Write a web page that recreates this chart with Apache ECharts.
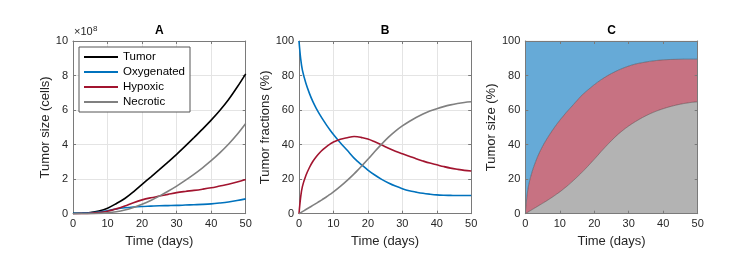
<!DOCTYPE html>
<html><head><meta charset="utf-8">
<script src="https://cdn.jsdelivr.net/npm/echarts@6/dist/echarts.min.js"></script>
<style>html,body{margin:0;padding:0;background:#fff}#c{width:740px;height:272px}</style>
</head><body><div id="c"></div>
<script>
// ---- data ----
const panelTitles = ['A', 'B', 'C'];
const seriesNames = ['Tumor', 'Oxygenated', 'Hypoxic', 'Necrotic'];
const xLabel = 'Time (days)';
const yLabelA = 'Tumor size (cells)';
const yLabelB = 'Tumor fractions (%)';
const yLabelC = 'Tumor size (%)';
const scaleLabel = '\u00d710';
const scaleExp = '8';

// Panel A: absolute sizes, in units of 1e8 cells
const timeA  = [0, 2.5, 5, 7.5, 10, 12.5, 15, 17.5, 20, 22.5, 25, 27.5, 30, 32.5, 35, 37.5, 40, 42.5, 45, 47.5, 50];
const tumorA = [0.02, 0.03, 0.07, 0.16, 0.32, 0.58, 0.88, 1.27, 1.7, 2.12, 2.55, 2.99, 3.44, 3.91, 4.4, 4.9, 5.42, 5.98, 6.6, 7.32, 8.1];
const oxyA   = [0.02, 0.03, 0.05, 0.1, 0.17, 0.27, 0.34, 0.39, 0.42, 0.44, 0.46, 0.47, 0.48, 0.5, 0.52, 0.54, 0.57, 0.62, 0.68, 0.76, 0.86];
const hypA   = [0, 0.005, 0.02, 0.06, 0.14, 0.28, 0.45, 0.64, 0.8, 0.92, 1.02, 1.12, 1.22, 1.29, 1.35, 1.42, 1.5, 1.6, 1.7, 1.83, 1.98];
const necA   = [0, 0, 0.005, 0.02, 0.05, 0.11, 0.21, 0.36, 0.55, 0.77, 1.02, 1.3, 1.6, 1.93, 2.28, 2.66, 3.07, 3.52, 4.02, 4.58, 5.22];

// Panels B and C: fractions in %
const timeF = [0, 0.5, 1, 2, 3, 4, 5, 6, 7, 8, 9, 10, 12, 14, 16, 17, 18, 20, 22, 24, 26, 28, 30, 32, 34, 36, 38, 40, 42, 44, 46, 48, 50];
const oxyF  = [100, 89.5, 83, 75.5, 69.8, 65, 61, 57.5, 54.3, 51.3, 48.5, 45.9, 41.1, 36.7, 32.2, 30.3, 28.6, 25.3, 22.4, 19.9, 17.8, 16, 14.5, 13.3, 12.5, 11.8, 11.3, 10.9, 10.7, 10.6, 10.5, 10.5, 10.5];
const hypF  = [0, 9.9, 15.8, 22.1, 26.6, 30.2, 33, 35.3, 37.2, 38.9, 40.3, 41.5, 43.1, 44, 44.7, 44.6, 44.2, 43.2, 41.6, 39.8, 37.9, 36.2, 34.7, 33.3, 31.8, 30.5, 29.3, 28.3, 27.3, 26.4, 25.7, 25.1, 24.7];
const necF  = [0, 0.6, 1.2, 2.4, 3.6, 4.8, 6, 7.2, 8.5, 9.8, 11.2, 12.6, 15.8, 19.3, 23.1, 25.1, 27.2, 31.5, 36, 40.3, 44.3, 47.8, 50.8, 53.4, 55.7, 57.7, 59.4, 60.8, 62, 63, 63.8, 64.4, 64.8];

// ---- styling ----
const FONT = 'Liberation Sans, Arial, Helvetica, sans-serif';
const TXT = '#262626';
const BOX = '#7a7a7a';
const GRIDC = '#e4e4e4';
const colors = { Tumor: '#000000', Oxygenated: '#0072BD', Hypoxic: '#A2142F', Necrotic: '#808080' };

const grids = [
  { left: 73, top: 41, width: 172.7, height: 172.7 },
  { left: 299, top: 41, width: 172.2, height: 172.7 },
  { left: 525.3, top: 41, width: 172.4, height: 172.7 }
];

const xAxes = [], yAxes = [];
function addAxes(gi, ymax, yint, showGrid, yName, yGap, z) {
  const line = { show: true, onZero: false, lineStyle: { color: BOX, width: 1 } };
  const tick = { show: true, inside: true, length: 3, lineStyle: { color: BOX, width: 1 } };
  const lab = { color: TXT, fontSize: 11, fontFamily: FONT, margin: 5 };
  const split = { show: showGrid, lineStyle: { color: GRIDC, width: 1 } };
  xAxes.push({ type: 'value', gridIndex: gi, position: 'bottom', min: 0, max: 50, interval: 10, z: z,
    axisLine: line, axisTick: tick, axisLabel: lab, splitLine: split,
    name: xLabel, nameLocation: 'middle', nameGap: 21,
    nameTextStyle: { color: TXT, fontSize: 13, fontFamily: FONT } });
  xAxes.push({ type: 'value', gridIndex: gi, position: 'top', min: 0, max: 50, interval: 10, z: z,
    axisLine: line, axisTick: tick, axisLabel: { show: false }, splitLine: { show: false } });
  yAxes.push({ type: 'value', gridIndex: gi, position: 'left', min: 0, max: ymax, interval: yint, z: z,
    axisLine: line, axisTick: tick, axisLabel: lab, splitLine: split,
    name: yName, nameLocation: 'middle', nameGap: yGap,
    nameTextStyle: { color: TXT, fontSize: 13, fontFamily: FONT } });
  yAxes.push({ type: 'value', gridIndex: gi, position: 'right', min: 0, max: ymax, interval: yint, z: z,
    axisLine: line, axisTick: tick, axisLabel: { show: false }, splitLine: { show: false } });
}
addAxes(0, 10, 2, true, yLabelA, 20, 0);
addAxes(1, 100, 20, true, yLabelB, 26, 0);
addAxes(2, 100, 20, false, yLabelC, 26, 5);

function pairs(t, v) { return t.map((x, i) => [x, v[i]]); }
// value-first pairs, so the stacked dimension is the y value
function vpairs(t, v) { return t.map((x, i) => [v[i], x]); }

const series = [];
const aData = { Tumor: tumorA, Oxygenated: oxyA, Hypoxic: hypA, Necrotic: necA };
seriesNames.forEach(n => {
  series.push({ name: n, type: 'line', xAxisIndex: 0, yAxisIndex: 0, data: pairs(timeA, aData[n]),
    showSymbol: false, smooth: 0.35, color: colors[n],
    lineStyle: { width: 1.6, color: colors[n] }, animation: false });
});
const bData = { Oxygenated: oxyF, Hypoxic: hypF, Necrotic: necF };
['Oxygenated', 'Hypoxic', 'Necrotic'].forEach(n => {
  series.push({ name: n + ' fraction', type: 'line', xAxisIndex: 2, yAxisIndex: 2, data: pairs(timeF, bData[n]),
    showSymbol: false, smooth: 0.35, color: colors[n],
    lineStyle: { width: 1.6, color: colors[n] }, animation: false });
});
['Necrotic', 'Hypoxic', 'Oxygenated'].forEach(n => {
  series.push({ name: n + ' area', type: 'line', xAxisIndex: 4, yAxisIndex: 4, stack: 'frac',
    encode: { x: 1, y: 0 },
    data: vpairs(timeF, bData[n]), showSymbol: false, smooth: 0.35, color: colors[n],
    lineStyle: { width: 0.6, color: '#3a3a3a', opacity: 0.7 },
    areaStyle: { color: colors[n], opacity: 0.6 }, animation: false });
});

const centers = grids.map(g => g.left + g.width / 2);
const graphic = panelTitles.map((t, i) => ({
  type: 'text', x: centers[i], y: 31,
  style: { text: t, fill: '#000', font: 'bold 12px ' + FONT, textAlign: 'center', textVerticalAlign: 'middle' }
}));
graphic.push({ type: 'text', x: 74, y: 37, style: { text: scaleLabel, fill: TXT, font: '11px ' + FONT, textAlign: 'left', textVerticalAlign: 'bottom' } });
graphic.push({ type: 'text', x: 93, y: 33, style: { text: scaleExp, fill: TXT, font: '8px ' + FONT, textAlign: 'left', textVerticalAlign: 'bottom' } });

const chart = echarts.init(document.getElementById('c'), null, { renderer: 'canvas' });
chart.setOption({
  animation: false,
  backgroundColor: '#ffffff',
  grid: grids,
  xAxis: xAxes,
  yAxis: yAxes,
  legend: {
    data: seriesNames, orient: 'vertical', left: 79, top: 47, icon: 'rect',
    itemWidth: 34, itemHeight: 2, itemGap: 1, padding: [3, 5, 3, 5],
    backgroundColor: '#ffffff', borderColor: '#555555', borderWidth: 1,
    selectedMode: false,
    textStyle: { color: '#000', fontSize: 11.5, fontFamily: FONT, lineHeight: 14 }
  },
  graphic: graphic,
  series: series
});
</script></body></html>
